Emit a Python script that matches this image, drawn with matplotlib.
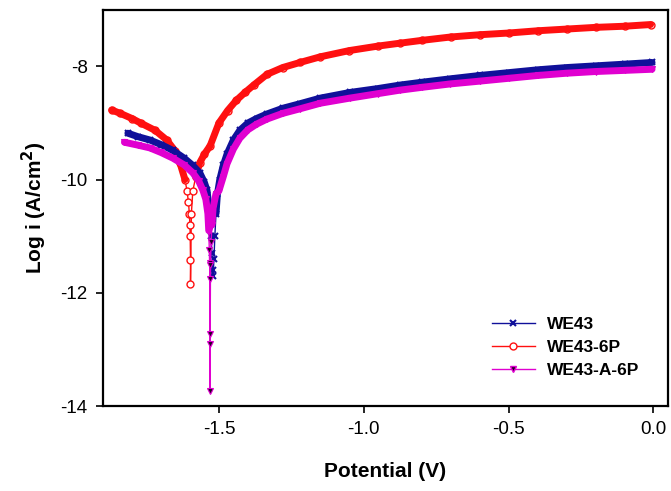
import numpy as np
import matplotlib
matplotlib.use('Agg')
import matplotlib.pyplot as plt
from matplotlib.lines import Line2D

plt.rcParams['font.family'] = ['Liberation Sans', 'DejaVu Sans']

# WE43 (potential V, log i)
we43_e = [-1.814, -1.78, -1.738, -1.70, -1.66, -1.62, -1.59, -1.566, -1.55, -1.541,
          -1.535, -1.53, -1.527, -1.524, -1.522, -1.520,
          -1.517, -1.514, -1.51, -1.505, -1.497, -1.485, -1.472, -1.45, -1.428, -1.40,
          -1.37, -1.334, -1.28, -1.221, -1.15, -1.048, -0.95, -0.876, -0.80, -0.703,
          -0.60, -0.50, -0.40, -0.30, -0.20, -0.10, -0.005]
we43_i = [-9.18, -9.24, -9.30, -9.38, -9.48, -9.62, -9.75, -9.88, -10.05, -10.19,
          -10.45, -10.7, -11.0, -11.3, -11.6, -11.7,
          -11.4, -11.0, -10.6, -10.25, -10.0, -9.75, -9.55, -9.30, -9.13, -9.0,
          -8.92, -8.84, -8.74, -8.66, -8.56, -8.46, -8.39, -8.33, -8.28, -8.22,
          -8.16, -8.11, -8.06, -8.02, -7.99, -7.96, -7.93]

# WE43-6P
p6_e = [-1.87, -1.84, -1.80, -1.77, -1.72, -1.68, -1.65, -1.634, -1.617, -1.610,
        -1.605, -1.602, -1.600, -1.599, -1.598, -1.598,
        -1.595, -1.590, -1.58, -1.566, -1.55, -1.53, -1.50, -1.47, -1.44, -1.41,
        -1.38, -1.334, -1.28, -1.22, -1.15, -1.05, -0.95, -0.876, -0.80, -0.70,
        -0.60, -0.50, -0.40, -0.30, -0.20, -0.10, -0.01]
p6_i = [-8.77, -8.83, -8.92, -9.0, -9.13, -9.30, -9.50, -9.71, -10.0, -10.2,
        -10.4, -10.6, -10.8, -11.0, -11.42, -11.85,
        -10.6, -10.2, -9.95, -9.70, -9.55, -9.40, -9.0, -8.78, -8.60, -8.46,
        -8.33, -8.14, -8.02, -7.93, -7.83, -7.72, -7.64, -7.59, -7.54, -7.48,
        -7.44, -7.41, -7.37, -7.34, -7.31, -7.29, -7.26]

# WE43-A-6P
a6_e = [-1.826, -1.78, -1.738, -1.70, -1.659, -1.62, -1.59, -1.57, -1.555, -1.545,
        -1.538, -1.535, -1.533, -1.532, -1.531, -1.531, -1.531, -1.531,
        -1.529, -1.527, -1.524, -1.52, -1.51, -1.50, -1.485, -1.472, -1.45, -1.428,
        -1.40, -1.37, -1.334, -1.28, -1.221, -1.15, -1.048, -0.95, -0.876, -0.80,
        -0.703, -0.60, -0.50, -0.40, -0.30, -0.20, -0.10, -0.005]
a6_i = [-9.34, -9.39, -9.44, -9.52, -9.62, -9.74, -9.88, -10.02, -10.19, -10.35,
        -10.6, -10.9, -11.25, -11.48, -11.75, -12.72, -12.9, -13.73,
        -11.5, -11.1, -10.8, -10.5, -10.25, -10.2, -9.95, -9.72, -9.46, -9.27,
        -9.12, -9.02, -8.93, -8.83, -8.75, -8.65, -8.56, -8.48, -8.42, -8.37,
        -8.31, -8.26, -8.21, -8.16, -8.12, -8.09, -8.07, -8.05]

labels = ['WE43', 'WE43-6P', 'WE43-A-6P']

BLUE = '#10109a'
RED = '#ff1010'
MAG = '#e000d0'


def dense_part(i, cut):
    # dense part of the sweep (away from the corrosion dip) -> thick band
    i = np.array(i, dtype=float)
    return np.where(i > cut, i, np.nan)


fig = plt.figure(figsize=(6.71, 4.91), dpi=100)
ax = fig.add_axes([0.1535, 0.173, 0.842, 0.807])

# thin lines with markers
ax.plot(p6_e, p6_i, color=RED, lw=1.0, marker='o', ms=5, mfc='white', mec=RED, mew=1.0, zorder=2)
ax.plot(we43_e, we43_i, color=BLUE, lw=1.0, marker='x', ms=5, mec=BLUE, mew=1.5, zorder=3)
ax.plot(a6_e, a6_i, color=MAG, lw=1.0, marker='v', ms=5, mfc='#200020', mec=MAG, mew=0.8, zorder=4)

# thick bands
ax.plot(p6_e, dense_part(p6_i, -10.05), color=RED, lw=5, solid_capstyle='round', zorder=2)
ax.plot(we43_e, dense_part(we43_i, -10.8), color=BLUE, lw=5, solid_capstyle='round', zorder=3)
ax.plot(a6_e, dense_part(a6_i, -10.95), color=MAG, lw=5, solid_capstyle='round', zorder=4)

ax.set_xlim(-1.9, 0.05)
ax.set_ylim(-14, -7)
ax.set_xticks([-1.5, -1.0, -0.5, 0.0])
ax.set_xticklabels(['-1.5', '-1.0', '-0.5', '0.0'])
ax.set_yticks([-8, -10, -12, -14])
ax.set_yticklabels(['-8', '-10', '-12', '-14'])
ax.tick_params(direction='out', length=5, width=1.2, labelsize=13.5, top=False, right=False, pad=6)
for s in ax.spines.values():
    s.set_linewidth(1.6)

ax.set_xlabel('Potential (V)', fontsize=15, fontweight='bold', labelpad=17)
ax.set_ylabel('Log i (A/cm$^\\mathbf{2}$)', fontsize=15, fontweight='bold', labelpad=8)

handles = [
    Line2D([], [], color=BLUE, lw=1.0, marker='x', ms=5, mec=BLUE, mew=1.5),
    Line2D([], [], color=RED, lw=1.0, marker='o', ms=5, mfc='white', mec=RED),
    Line2D([], [], color=MAG, lw=1.0, marker='v', ms=5, mfc='#200020', mec=MAG),
]
ax.legend(handles, labels, loc='upper left', bbox_to_anchor=(0.688, 0.225),
          frameon=False, borderpad=0, borderaxespad=0, handlelength=2.5,
          handletextpad=0.7, labelspacing=0.45,
          prop={'weight': 'bold', 'size': 12.5})

plt.savefig('out.png', dpi=100)
plt.close()
